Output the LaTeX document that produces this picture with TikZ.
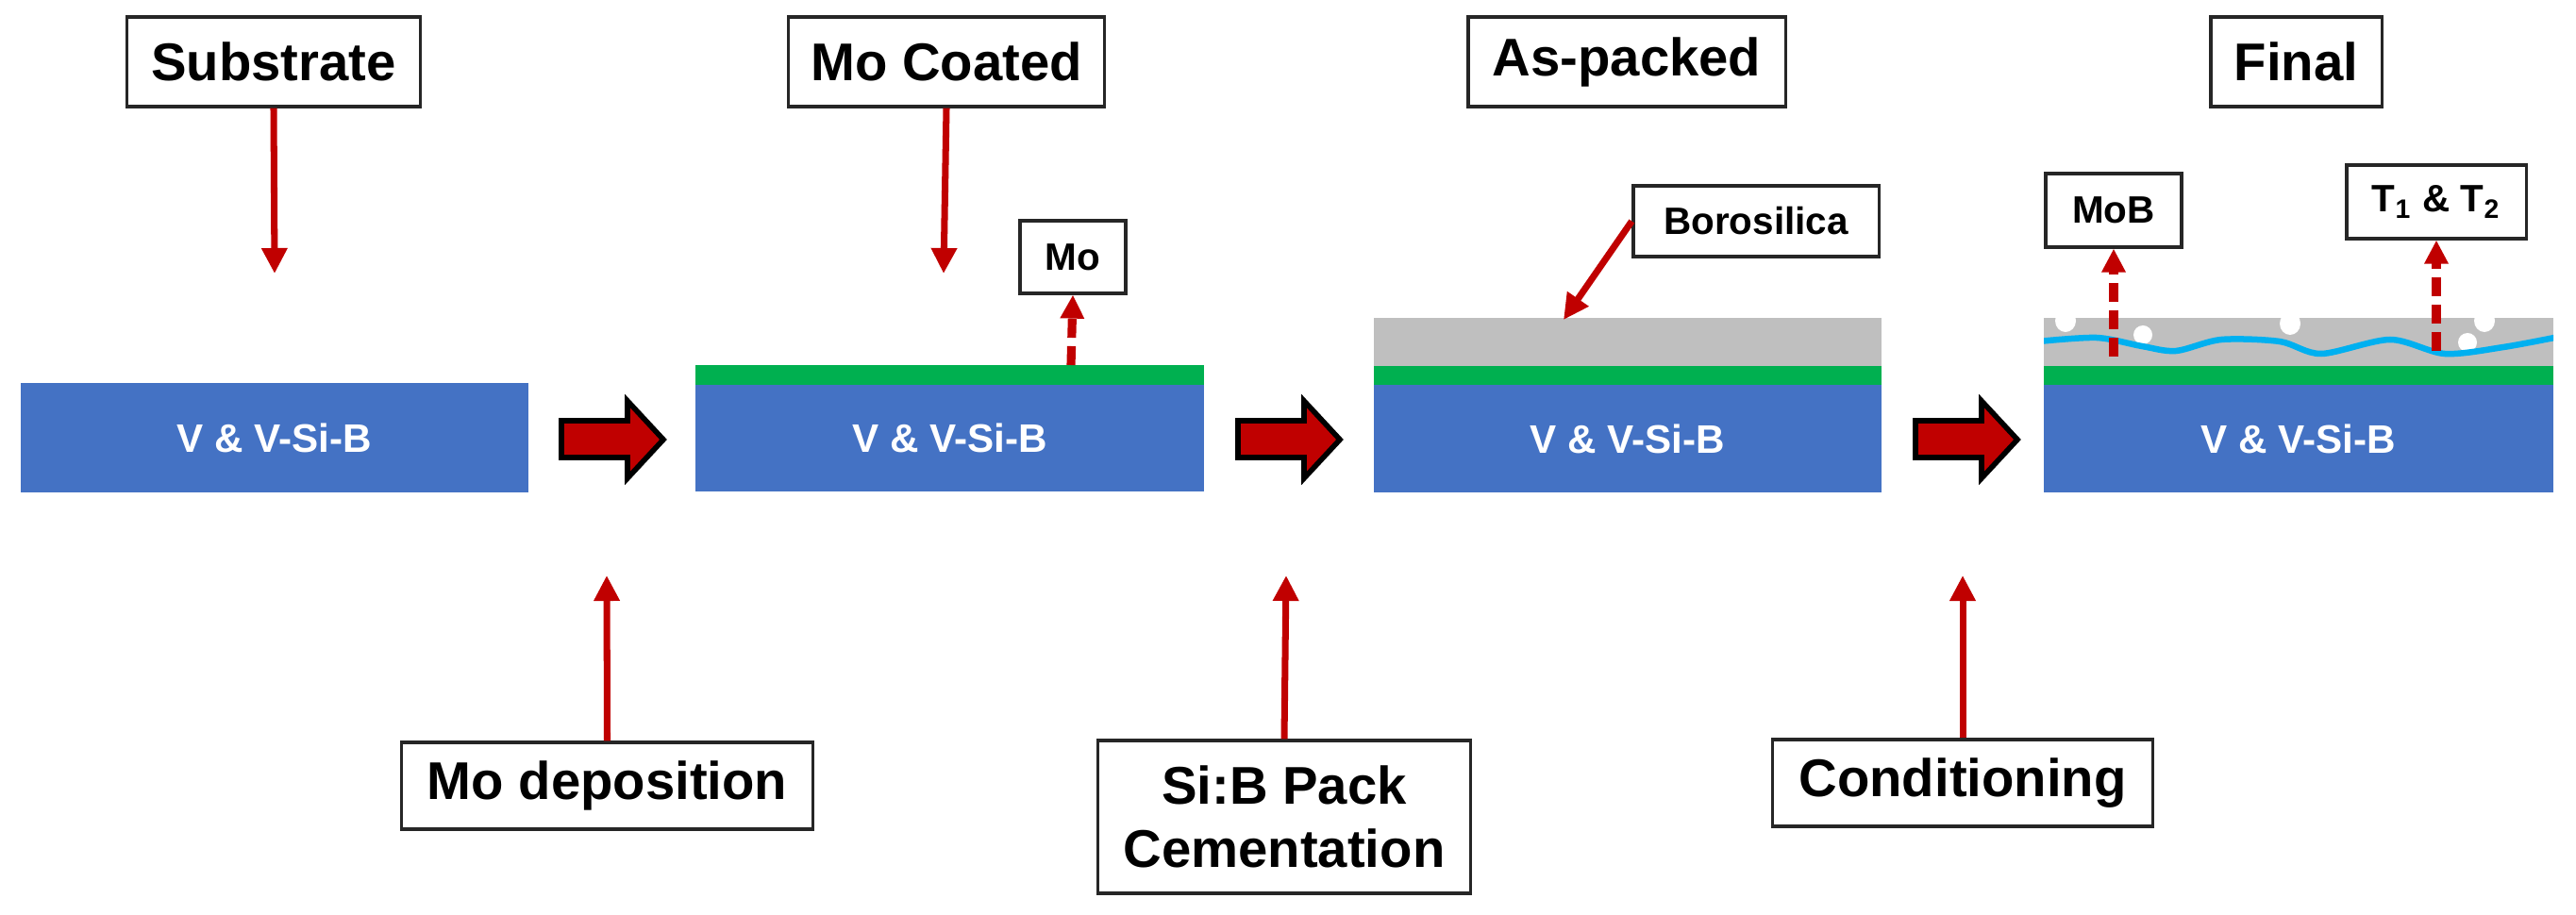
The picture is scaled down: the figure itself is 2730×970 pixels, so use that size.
\documentclass[tikz,border=0pt]{standalone}
\usepackage{fontspec}
\setmainfont{Liberation Sans}
\usetikzlibrary{arrows.meta}
\definecolor{sblue}{HTML}{4472C4}
\definecolor{sgreen}{HTML}{00B050}
\definecolor{sgray}{HTML}{BFBFBF}
\definecolor{swave}{HTML}{00B0F0}
\definecolor{sred}{HTML}{C00000}
\begin{document}
\begin{tikzpicture}[x=0.01cm,y=-0.01cm,
  lbl/.style={draw=black!85,line width=0.9pt,fill=white,inner sep=0pt,font=\bfseries\fontsize{16}{19}\selectfont,align=center},
  slbl/.style={lbl,font=\bfseries\fontsize{11.5}{14}\selectfont},
  sub/.style={fill=sblue,inner sep=0pt,text=white,font=\bfseries\fontsize{12}{14}\selectfont},
  rarr/.style={draw=sred,line width=2pt,-{Triangle[length=0.27cm,width=0.26cm]}},
  darr/.style={draw=sred,line width=2.6pt,dash pattern=on 0.2cm off 0.09cm,-{Triangle[length=0.25cm,width=0.24cm]}},
  big/.style={fill=sred,draw=black,line width=1.6pt,line join=miter}]
\useasboundingbox (0,0) rectangle (2730,970);
% panels
\node[sub,minimum width=5.38cm,minimum height=1.16cm] (p1) at (291,464) {V \& V-Si-B};
\fill[sgreen] (737,387) rectangle (1276,408);
\node[sub,minimum width=5.39cm,minimum height=1.13cm] (p2) at (1006.5,464.5) {V \& V-Si-B};
\fill[sgray] (1456,337) rectangle (1994,388);
\fill[sgreen] (1456,388) rectangle (1994,408);
\node[sub,minimum width=5.38cm,minimum height=1.14cm] (p3) at (1725,465) {V \& V-Si-B};
\fill[sgray] (2166,337) rectangle (2706,388);
\fill[sgreen] (2166,388) rectangle (2706,408);
\node[sub,minimum width=5.40cm,minimum height=1.14cm] (p4) at (2436,465) {V \& V-Si-B};
% bubbles and wave
\foreach \bx/\by in {2189/340,2427/343,2633/340}
  \fill[white] (\bx,\by) ellipse[x radius=0.11cm,y radius=0.12cm];
\foreach \bx/\by in {2271/355,2615/363}
  \fill[white] (\bx,\by) circle[radius=0.1cm];
\begin{scope}
\clip (2166,337) rectangle (2706,388);
\draw[swave,line width=0.065cm] plot[smooth] coordinates {(2160,362) (2222,358) (2270,367) (2306,372) (2354,360) (2416,362) (2460,375) (2533,360) (2591,375) (2653,368) (2712,357)};
\end{scope}
% process arrows
\foreach \a in {595,1312,2030}
  \draw[big] (\a,446) -- (\a+70,446) -- (\a+70,425) -- (\a+108,466) -- (\a+70,507) -- (\a+70,485) -- (\a,485) -- cycle;
% top labels
\node[lbl,minimum width=3.10cm,minimum height=0.95cm] (tsub) at (290,65.5) {Substrate};
\node[lbl,minimum width=3.34cm,minimum height=0.95cm] (tmoc) at (1003,65.5) {Mo Coated};
\node[lbl,minimum width=3.36cm,minimum height=0.95cm] (tasp) at (1724,65.5) {As-packed};
\node[lbl,minimum width=1.81cm,minimum height=0.95cm] (tfin) at (2433.5,65.5) {Final};
\coordinate (e1) at (291,290);
\coordinate (e2) at (1000,290);
\draw[rarr] (tsub.south) -- (e1);
\draw[rarr] (tmoc.south) -- (e2);
% small labels
\node[slbl,minimum width=1.12cm,minimum height=0.77cm] (mo) at (1137,272.5) {Mo};
\node[slbl,minimum width=2.60cm,minimum height=0.75cm] (bor) at (1861,234.5) {Borosilica};
\node[slbl,minimum width=1.44cm,minimum height=0.78cm] (mob) at (2240,223) {MoB};
\node[slbl,minimum width=1.90cm,minimum height=0.78cm] (tt) at (2582,214) {T\textsubscript{1} \& T\textsubscript{2}};
\coordinate (s1) at (1135,387);
\coordinate (s2) at (1657,339);
\coordinate (s3) at (2240,378);
\coordinate (s4) at (2582,372);
\draw[darr] (s1) -- (mo.south);
\draw[rarr] (bor.west) -- (s2);
\draw[darr] (s3) -- (mob.south);
\draw[darr] (s4) -- (tt.south);
% bottom labels
\node[lbl,minimum width=4.35cm,minimum height=0.92cm] (bmo) at (643.5,833) {Mo deposition};
\node[lbl,minimum width=3.94cm,minimum height=1.62cm] (bsi) at (1361,866) {Si:B Pack\\Cementation};
\node[lbl,minimum width=4.02cm,minimum height=0.92cm] (bco) at (2080,830) {Conditioning};
\coordinate (u1) at (643,610);
\coordinate (u2) at (1363,610);
\coordinate (u3) at (2080,610);
\draw[rarr] (bmo.north) -- (u1);
\draw[rarr] (bsi.north) -- (u2);
\draw[rarr] (bco.north) -- (u3);
\end{tikzpicture}
\end{document}
